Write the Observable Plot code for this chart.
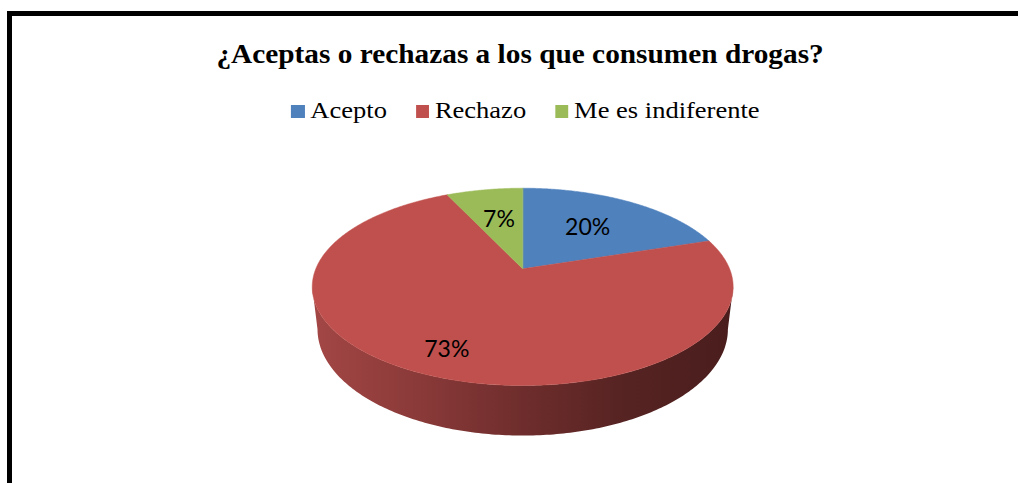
<!DOCTYPE html>
<html>
<head>
<meta charset="utf-8">
<script src="https://cdn.jsdelivr.net/npm/d3@7"></script>
<script src="https://cdn.jsdelivr.net/npm/@observablehq/plot@0.6"></script>
<style>
html, body { margin: 0; padding: 0; background: #fff; overflow: hidden; width: 1018px; height: 483px; }
#frame { position: absolute; left: 7px; top: 11px; width: 1100px; height: 600px; border: 5px solid #000; box-sizing: border-box; }
#title { position: absolute; left: 0; top: 39px; width: 1041px; text-align: center; font: bold 26.67px/30px "Liberation Serif", "Times New Roman", serif; color: #000; white-space: nowrap; }
#title span { display: inline-block; transform: scaleX(1.10); }
#legend { position: absolute; left: 0; top: 98px; width: 1051px; display: flex; justify-content: center; gap: 24.8px; font: 22.67px/26px "Liberation Serif", "Times New Roman", serif; color: #000; white-space: nowrap; transform: scaleX(1.17); }
.item { display: inline-block; }
.sw { display: inline-block; width: 11.1px; height: 13px; margin-right: 5.1px; vertical-align: baseline; }
#chart { position: absolute; left: 0; top: 150px; }
</style>
</head>
<body>
<div id="frame"></div>
<div id="title"><span></span></div>
<div id="legend"></div>
<div id="chart"></div>
<script>
// ---- data ----
const title = "¿Aceptas o rechazas a los que consumen drogas?";
const categories = ["Acepto", "Rechazo", "Me es indiferente"];
const percents = [20, 73, 7];
const sliceColors = ["#4F81BD", "#C0504D", "#9BBB59"];
const labels = ["20%", "73%", "7%"];

// ---- 3D pie projection parameters ----
const W = 1018, H = 333, TOP = 150;
const K = -0.183;            // perspective factor
const A = 206.9, B = 95.35;  // horizontal / vertical radii (px)
const CX = 522.2, CY = 268.3; // projected pie centre in page px
const DEPTH = 0.429, SHRINK = 0.975;

function project(theta, r = 1, depth = 0) {
  const u = r * Math.sin(theta), v = -r * Math.cos(theta);
  const w = 1 + K * v;
  return { x: (u * (depth ? SHRINK : 1)) / w, y: (v + depth) / w };
}

document.querySelector("#title span").textContent = title;
const legend = document.getElementById("legend");
categories.forEach((c, i) => {
  const it = document.createElement("span");
  it.className = "item";
  const sw = document.createElement("span");
  sw.className = "sw";
  sw.style.background = sliceColors[i];
  it.appendChild(sw);
  it.appendChild(document.createTextNode(c));
  legend.appendChild(it);
});

// slices
const total = d3.sum(percents);
let acc = 0;
const slices = categories.map((c, i) => {
  const a0 = acc / total * 2 * Math.PI;
  acc += percents[i];
  const a1 = acc / total * 2 * Math.PI;
  return { cat: c, a0, a1, color: sliceColors[i], label: labels[i], share: percents[i] / total };
});

// top face polygons
const topPts = [];
slices.forEach((s, i) => {
  topPts.push({ id: i, color: s.color, ...project(0, 0) });
  const n = Math.max(2, Math.ceil((s.a1 - s.a0) / (Math.PI / 360)));
  for (let k = 0; k <= n; k++) {
    const t = s.a0 + (s.a1 - s.a0) * k / n;
    topPts.push({ id: i, color: s.color, ...project(t) });
  }
});

// front wall: one polygon (top arc forward, bottom arc back), shaded by a gradient
const tR = Math.acos(K), tL = 2 * Math.PI - Math.acos(K);
const sidePts = [];
const NS = 200;
for (let k = 0; k <= NS; k++) sidePts.push({ id: "side", ...project(tR + (tL - tR) * k / NS) });
for (let k = NS; k >= 0; k--) sidePts.push({ id: "side", ...project(tR + (tL - tR) * k / NS, 1, DEPTH) });

const gradStops = [
  [0, "#a34745"], [0.25, "#8a3a39"], [0.5, "#6e2d2c"], [0.75, "#552322"], [1, "#4a1d1d"]
];

// labels
const labelData = slices.map(s => {
  const r = s.share > 0.5 ? 0.8 : 0.58;
  return { text: s.label, ...project((s.a0 + s.a1) / 2, r) };
});

const chart = Plot.plot({
  width: W,
  height: H,
  margin: 0,
  x: { domain: [-CX / A, (W - CX) / A], range: [0, W], axis: null },
  y: { domain: [-(CY - TOP) / B, (H - (CY - TOP)) / B], range: [0, H], axis: null },
  color: { type: "identity" },
  marks: [
    () => {
      const defs = d3.create("svg:defs");
      const g = defs.append("linearGradient").attr("id", "sideShade")
        .attr("x1", 0).attr("x2", 1).attr("y1", 0).attr("y2", 0);
      gradStops.forEach(([o, c]) => g.append("stop").attr("offset", o).attr("stop-color", c));
      return defs.node();
    },
    Plot.line(sidePts, { x: "x", y: "y", z: "id", fill: "url(#sideShade)", stroke: "none", curve: "linear-closed" }),
    Plot.line(topPts, { x: "x", y: "y", z: "id", fill: "color", stroke: "color", strokeWidth: 0.5, curve: "linear-closed" }),
    Plot.text(labelData, { x: "x", y: "y", text: "text", fontSize: 23, fontFamily: "Lato", fill: "#000" })
  ]
});
document.getElementById("chart").appendChild(chart);
</script>
</body>
</html>
